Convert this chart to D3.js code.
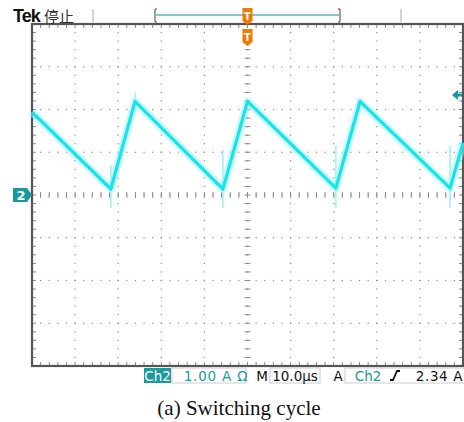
<!DOCTYPE html>
<html>
<head>
<meta charset="utf-8">
<script src="https://cdn.jsdelivr.net/npm/d3@7"></script>
<style>
  body { margin: 0; background: #fff; }
  svg { display: block; }
</style>
</head>
<body>
<div id="chart"></div>
<script>
var width = 464;
var height = 422;

// trace: time (us) vs current (A)
var traceTime    = [-50, -31.7, -26.1, -5.7, 0, 20.5, 26.1, 47.0, 50];
var traceCurrent = [1.94, 0.14, 2.19, 0.14, 2.19, 0.16, 2.19, 0.16, 1.22];

// switching spikes: time, low, high
var spikeTime = [-31.7, -26.1, -5.7, 20.5, 47.0];
var spikeLow  = [-0.3, 1.98, -0.3, -0.3, -0.3];
var spikeHigh = [0.7, 2.4, 1.05, 1.15, 1.15];

var triggerLevel = 2.34;
var statusLabels = ["Ch2", "1.00 A \u03a9", "M", "10.0\u00b5s", "A", "Ch2", "2.34 A"];

var xScale = d3.scaleLinear().domain([-50, 50]).range([32, 463]);
var yScale = d3.scaleLinear().domain([-4, 4]).range([366, 24]);

var svg = d3.select("#chart").append("svg")
  .attr("width", width)
  .attr("height", height);

var teal = "#1a9a9c";
var orange = "#f07800";
var grid = "#8a8a8a";

// graticule dots along each division line
var g = svg.append("g");
var divX = d3.range(-40, 50, 10);
var divY = d3.range(-3, 4, 1);
var minorX = d3.range(-50, 50.01, 2);
var minorY = d3.range(-4, 4.01, 0.2);

divX.forEach(function(t) {
  if (t === 0) return;
  g.selectAll(null).data(minorY).enter().append("rect")
    .attr("x", xScale(t) - 0.6).attr("y", function(d) { return yScale(d) - 0.6; })
    .attr("width", 1.2).attr("height", 1.2).attr("fill", grid);
});
divY.forEach(function(v) {
  if (v === 0) return;
  g.selectAll(null).data(minorX).enter().append("rect")
    .attr("x", function(d) { return xScale(d) - 0.6; }).attr("y", yScale(v) - 0.6)
    .attr("width", 1.2).attr("height", 1.2).attr("fill", grid);
});

// centre axes with minor ticks
g.selectAll(null).data(minorX).enter().append("line")
  .attr("x1", function(d) { return xScale(d); }).attr("x2", function(d) { return xScale(d); })
  .attr("y1", yScale(0) - 3).attr("y2", yScale(0) + 3)
  .attr("stroke", grid).attr("stroke-width", 1);
g.selectAll(null).data(minorY).enter().append("line")
  .attr("y1", function(d) { return yScale(d); }).attr("y2", function(d) { return yScale(d); })
  .attr("x1", xScale(0) - 3).attr("x2", xScale(0) + 3)
  .attr("stroke", grid).attr("stroke-width", 1);
g.selectAll(null).data(minorX).enter().append("rect")
  .attr("x", function(d) { return xScale(d) - 0.6; }).attr("y", yScale(0) - 0.6)
  .attr("width", 1.2).attr("height", 1.2).attr("fill", grid);
g.selectAll(null).data(minorY).enter().append("rect")
  .attr("y", function(d) { return yScale(d) - 0.6; }).attr("x", xScale(0) - 0.6)
  .attr("width", 1.2).attr("height", 1.2).attr("fill", grid);

// edge ticks pointing inwards
[[yScale(4), 1], [yScale(-4), -1]].forEach(function(e) {
  g.selectAll(null).data(minorX).enter().append("line")
    .attr("x1", function(d) { return xScale(d); }).attr("x2", function(d) { return xScale(d); })
    .attr("y1", e[0]).attr("y2", e[0] + e[1] * 4)
    .attr("stroke", grid).attr("stroke-width", 1);
});
[[xScale(-50), 1], [xScale(50), -1]].forEach(function(e) {
  g.selectAll(null).data(minorY).enter().append("line")
    .attr("y1", function(d) { return yScale(d); }).attr("y2", function(d) { return yScale(d); })
    .attr("x1", e[0]).attr("x2", e[0] + e[1] * 4)
    .attr("stroke", grid).attr("stroke-width", 1);
});

// frame
svg.append("rect")
  .attr("x", xScale(-50)).attr("y", yScale(4))
  .attr("width", xScale(50) - xScale(-50)).attr("height", yScale(-4) - yScale(4))
  .attr("fill", "none").attr("stroke", "#555").attr("stroke-width", 2.2);

// trace
var trace = traceTime.map(function(t, i) { return [t, traceCurrent[i]]; });
var line = d3.line()
  .x(function(d) { return xScale(d[0]); })
  .y(function(d) { return yScale(d[1]); });

var traceG = svg.append("g");
traceG.selectAll("line.spike")
  .data(spikeTime).enter().append("line")
  .attr("class", "spike")
  .attr("x1", function(d) { return xScale(d); }).attr("x2", function(d) { return xScale(d); })
  .attr("y1", function(d, i) { return yScale(spikeLow[i]); })
  .attr("y2", function(d, i) { return yScale(spikeHigh[i]); })
  .attr("stroke", "#7ff0f4").attr("stroke-width", 1.5).attr("opacity", 0.8);

traceG.append("path").datum(trace)
  .attr("d", line).attr("fill", "none")
  .attr("stroke", "#9ff4f6").attr("stroke-width", 8).attr("opacity", 0.55)
  .attr("stroke-linejoin", "round");
traceG.append("path").datum(trace)
  .attr("d", line).attr("fill", "none")
  .attr("stroke", "#17e3ea").attr("stroke-width", 3.2)
  .attr("stroke-linejoin", "round");

// channel 2 ground marker
var gy = yScale(0);
svg.append("path")
  .attr("d", "M13," + (gy - 7) + "H27L32," + gy + "L27," + (gy + 7) + "H13Z")
  .attr("fill", teal);
svg.append("text")
  .attr("x", 21).attr("y", gy + 5)
  .attr("text-anchor", "middle")
  .attr("font-family", "DejaVu Sans, sans-serif").attr("font-weight", "bold")
  .attr("font-size", 13).attr("fill", "#fff").text("2");

// trigger level arrow
var ty = yScale(triggerLevel);
svg.append("path")
  .attr("d", "M452," + ty + "L458," + (ty - 5) + "V" + (ty - 1.5) + "H462V" + (ty + 1.5) + "H458V" + (ty + 5) + "Z")
  .attr("fill", teal);

// top bar
svg.append("text").attr("x", 13).attr("y", 22)
  .attr("font-family", "Liberation Sans, sans-serif").attr("font-weight", "bold")
  .attr("font-size", 18).attr("letter-spacing", -1).attr("fill", "#111").text("Tek");
svg.append("text").attr("x", 44).attr("y", 22)
  .attr("font-family", "Noto Sans CJK SC, sans-serif")
  .attr("font-size", 15).attr("fill", "#333").text("停止");
[93, 401].forEach(function(x) {
  svg.append("line").attr("x1", x).attr("x2", x).attr("y1", 9).attr("y2", 22)
    .attr("stroke", "#aaa").attr("stroke-width", 1);
});
svg.append("path").attr("d", "M157,9H155V22H157").attr("fill", "none").attr("stroke", "#444").attr("stroke-width", 1);
svg.append("path").attr("d", "M338,9H340V22H338").attr("fill", "none").attr("stroke", "#444").attr("stroke-width", 1);
svg.append("line").attr("x1", 156).attr("x2", 339).attr("y1", 15).attr("y2", 15)
  .attr("stroke", "#7ccccc").attr("stroke-width", 2);

function triggerT(cx, cy) {
  svg.append("path")
    .attr("d", "M" + (cx - 5) + "," + (cy - 8) + "H" + (cx + 5) + "V" + (cy + 5) + "L" + cx + "," + (cy + 9) + "L" + (cx - 5) + "," + (cy + 5) + "Z")
    .attr("fill", orange);
  svg.append("text").attr("x", cx).attr("y", cy + 4).attr("text-anchor", "middle")
    .attr("font-family", "DejaVu Sans, sans-serif").attr("font-weight", "bold")
    .attr("font-size", 10).attr("fill", "#fff").text("T");
}
triggerT(xScale(0), 16);
triggerT(xScale(0), 37);

// status bar
var sf = "DejaVu Sans, sans-serif";
var fs = 13.5;
svg.append("rect").attr("x", 144).attr("y", 368).attr("width", 27).attr("height", 15).attr("fill", teal);
svg.append("text").attr("x", 157.5).attr("y", 381).attr("text-anchor", "middle")
  .attr("font-family", sf).attr("font-size", fs).attr("fill", "#fff").text(statusLabels[0]);
svg.append("rect").attr("x", 172).attr("y", 368).attr("width", 74).attr("height", 15)
  .attr("fill", "none").attr("stroke", "#ccc");
svg.append("text").attr("x", 216).attr("y", 381).attr("text-anchor", "middle")
  .attr("font-family", sf).attr("font-size", fs).attr("fill", teal).attr("letter-spacing", 0.8).text(statusLabels[1]);
svg.append("text").attr("x", 262).attr("y", 381).attr("text-anchor", "middle")
  .attr("font-family", sf).attr("font-size", fs).attr("fill", "#111").text(statusLabels[2]);
svg.append("rect").attr("x", 270).attr("y", 368).attr("width", 50).attr("height", 15)
  .attr("fill", "none").attr("stroke", "#ccc");
svg.append("text").attr("x", 295).attr("y", 381).attr("text-anchor", "middle")
  .attr("font-family", sf).attr("font-size", fs).attr("fill", "#111").text(statusLabels[3]);
svg.append("text").attr("x", 338).attr("y", 381).attr("text-anchor", "middle")
  .attr("font-family", sf).attr("font-size", fs).attr("fill", "#111").text(statusLabels[4]);
svg.append("rect").attr("x", 345).attr("y", 368).attr("width", 120).attr("height", 15)
  .attr("fill", "none").attr("stroke", "#ccc");
svg.append("text").attr("x", 368).attr("y", 381).attr("text-anchor", "middle")
  .attr("font-family", sf).attr("font-size", fs).attr("fill", teal).text(statusLabels[5]);
svg.append("path").attr("d", "M390,380H393L397,371H400").attr("fill", "none")
  .attr("stroke", "#111").attr("stroke-width", 1.8);
svg.append("text").attr("x", 463).attr("y", 381).attr("text-anchor", "end")
  .attr("font-family", sf).attr("font-size", fs).attr("letter-spacing", 0.6).attr("fill", "#111").text(statusLabels[6]);

// caption
svg.append("text").attr("x", 239).attr("y", 415).attr("text-anchor", "middle")
  .attr("font-family", "Liberation Serif, Times New Roman, serif")
  .attr("font-size", 21).attr("fill", "#111").text("(a) Switching cycle");
</script>
</body>
</html>
